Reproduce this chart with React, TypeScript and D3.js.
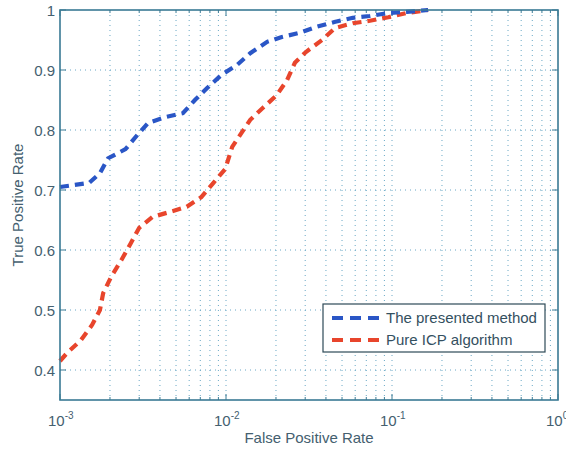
import React from "react";
import * as d3 from "d3";

const fprPresented = [0.001, 0.0015, 0.00174, 0.00195, 0.00248, 0.00293, 0.0034, 0.0044, 0.0055, 0.0065, 0.0077, 0.0094, 0.0116, 0.014, 0.0177, 0.0217, 0.0278, 0.0352, 0.045, 0.058, 0.0736, 0.095, 0.123, 0.165];
const tprPresented = [0.705, 0.712, 0.728, 0.753, 0.768, 0.792, 0.812, 0.822, 0.828, 0.85, 0.87, 0.892, 0.908, 0.928, 0.947, 0.955, 0.962, 0.972, 0.98, 0.987, 0.99, 0.995, 0.997, 1.0];

const fprICP = [0.001, 0.0011, 0.00134, 0.00156, 0.00174, 0.00182, 0.00203, 0.00234, 0.00268, 0.003, 0.0036, 0.0048, 0.0058, 0.0071, 0.0084, 0.0099, 0.0109, 0.014, 0.0167, 0.0202, 0.0233, 0.026, 0.0303, 0.0379, 0.0454, 0.0581, 0.0736, 0.095, 0.123, 0.165];
const tprICP = [0.415, 0.428, 0.45, 0.475, 0.5, 0.528, 0.555, 0.583, 0.612, 0.637, 0.655, 0.665, 0.672, 0.688, 0.712, 0.735, 0.772, 0.817, 0.837, 0.858, 0.883, 0.912, 0.93, 0.95, 0.97, 0.978, 0.982, 0.988, 0.995, 1.0];

const seriesNames = ["The presented method", "Pure ICP algorithm"];
const xTickExponents = [-3, -2, -1, 0];
const yTicks = [0.4, 0.5, 0.6, 0.7, 0.8, 0.9, 1];
const yTickLabels = ["0.4", "0.5", "0.6", "0.7", "0.8", "0.9", "1"];

const W = 566;
const H = 449;
const L = 60, R = 558, T = 10, B = 400;

const AXIS = "#3a7a94";
const GRID = "#5a9fc0";
const TEXT = "#44606f";
const BLUE = "#2a56c6";
const RED = "#e8452c";
const FONT = "Liberation Sans, Arial, Helvetica, sans-serif";

export default function App() {
  const x = d3.scaleLog().domain([1e-3, 1]).range([L, R]);
  const y = d3.scaleLinear().domain([0.35, 1]).range([B, T]);

  const minorX: number[] = [];
  for (let e = -3; e < 0; e++) {
    for (let m = 2; m <= 9; m++) minorX.push(m * Math.pow(10, e));
  }
  const majorX = xTickExponents.map((e) => Math.pow(10, e));

  const line = d3
    .line<[number, number]>()
    .x((d) => x(d[0]))
    .y((d) => y(d[1]));

  const blueData = fprPresented.map((f, i) => [f, tprPresented[i]] as [number, number]);
  const redData = fprICP.map((f, i) => [f, tprICP[i]] as [number, number]);

  const dash = "9,6";

  return (
    <svg width={W} height={H} style={{ position: "absolute", left: 0, top: 0, background: "#fff" }} fontFamily={FONT}>
      <rect x={0} y={0} width={W} height={H} fill="#fff" />
      {/* grid */}
      <g stroke={GRID} strokeWidth={1} strokeDasharray="1,4" opacity={0.9}>
        {[...minorX, ...majorX.slice(1, 3)].map((v, i) => (
          <line key={"gx" + i} x1={x(v)} x2={x(v)} y1={T} y2={B} />
        ))}
        {yTicks.slice(0, 6).map((v, i) => (
          <line key={"gy" + i} x1={L} x2={R} y1={y(v)} y2={y(v)} />
        ))}
      </g>
      {/* ticks */}
      <g stroke={AXIS} strokeWidth={1}>
        {majorX.map((v, i) => (
          <g key={"mx" + i}>
            <line x1={x(v)} x2={x(v)} y1={B} y2={B - 6} />
            <line x1={x(v)} x2={x(v)} y1={T} y2={T + 6} />
          </g>
        ))}
        {minorX.map((v, i) => (
          <g key={"nx" + i}>
            <line x1={x(v)} x2={x(v)} y1={B} y2={B - 3} />
            <line x1={x(v)} x2={x(v)} y1={T} y2={T + 3} />
          </g>
        ))}
        {yTicks.map((v, i) => (
          <g key={"ty" + i}>
            <line x1={L} x2={L + 6} y1={y(v)} y2={y(v)} />
            <line x1={R} x2={R - 6} y1={y(v)} y2={y(v)} />
          </g>
        ))}
      </g>
      {/* curves */}
      <path d={line(redData) || ""} fill="none" stroke={RED} strokeWidth={4.2} strokeDasharray={dash} />
      <path d={line(blueData) || ""} fill="none" stroke={BLUE} strokeWidth={4.2} strokeDasharray={dash} />
      {/* frame */}
      <rect x={L} y={T} width={R - L} height={B - T} fill="none" stroke={AXIS} strokeWidth={1.6} />
      {/* y tick labels */}
      {yTicks.map((v, i) => (
        <text key={"yl" + i} x={L - 5} y={y(v) + 5.5} textAnchor="end" fontSize={15} fill={TEXT}>
          {yTickLabels[i]}
        </text>
      ))}
      {/* x tick labels */}
      {xTickExponents.map((e, i) => (
        <text key={"xl" + i} x={x(Math.pow(10, e)) - 12} y={426} fontSize={15} fill={TEXT}>
          10
          <tspan dy={-7} fontSize={10}>{String(e)}</tspan>
        </text>
      ))}
      {/* axis labels */}
      <text x={(L + R) / 2} y={443} textAnchor="middle" fontSize={15} fill={TEXT}>
        False Positive Rate
      </text>
      <text transform={`translate(23, ${(T + B) / 2}) rotate(-90)`} textAnchor="middle" fontSize={15} fill={TEXT}>
        True Positive Rate
      </text>
      {/* legend */}
      <g>
        <rect x={323} y={304} width={222} height={48} fill="#fff" stroke="#2e4a58" strokeWidth={1.2} />
        <line x1={332} x2={380} y1={318} y2={318} stroke={BLUE} strokeWidth={4} strokeDasharray="11,7" />
        <line x1={332} x2={380} y1={340} y2={340} stroke={RED} strokeWidth={4} strokeDasharray="11,7" />
        <text x={386} y={323} fontSize={15} fill="#34505f">{seriesNames[0]}</text>
        <text x={386} y={345} fontSize={15} fill="#34505f">{seriesNames[1]}</text>
      </g>
    </svg>
  );
}
